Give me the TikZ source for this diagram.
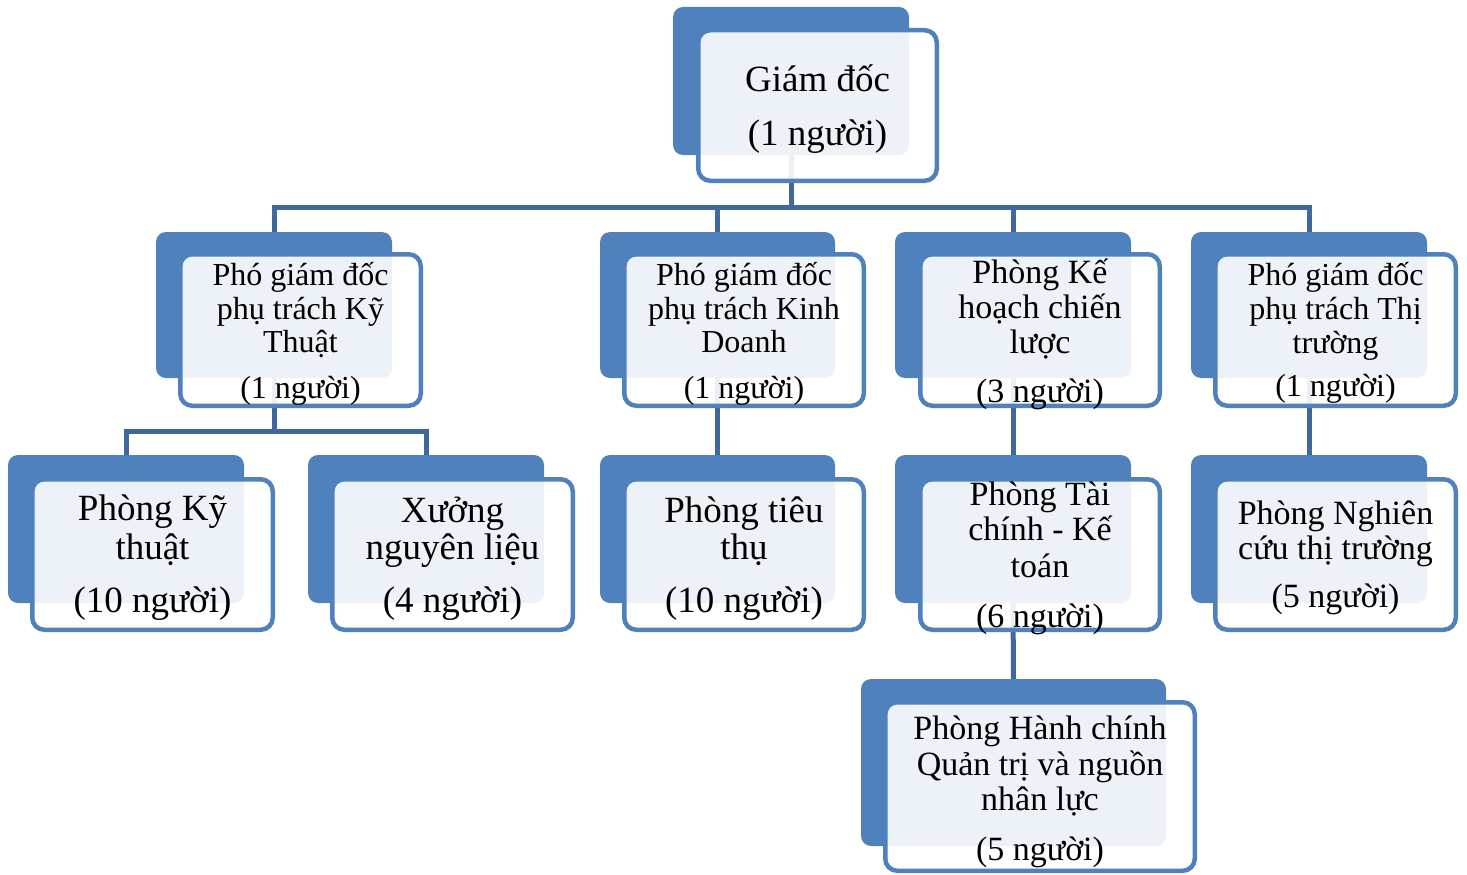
\documentclass[tikz,border=0pt]{standalone}
\usepackage{fontspec}
\setmainfont{Liberation Serif}
\definecolor{backblue}{RGB}{79,129,189}
\definecolor{linkblue}{RGB}{64,104,158}
\pgfdeclarelayer{bg}
\pgfsetlayers{bg,main}
\tikzset{
  backbox/.style={fill=backblue, rounded corners=10pt, inner sep=0pt, outer sep=0pt, draw=none},
  frontbox/.style={draw=backblue, line width=4.5pt, fill=white, fill opacity=0.9, draw opacity=1, rounded corners=12pt, inner sep=0pt, outer sep=0pt},
  txt/.style={anchor=base, inner sep=0pt, text=black, yshift=-2pt},
  link/.style={draw=linkblue, line width=5pt},
}
% name, back x1,y1,x2,y2, front x1,y1,x2,y2
\newcommand\orgbox[9]{%
  \node[backbox, minimum width={(#4-#2)*1pt}, minimum height={(#5-#3)*1pt}] (#1B) at ({(#2+#4)/2},{(#3+#5)/2}) {};
  \node[frontbox, minimum width={(#8-#6-4.5)*1pt}, minimum height={(#9-#7-4.5)*1pt}] (#1) at ({(#6+#8)/2},{(#7+#9)/2}) {};
}
\newcommand\tline[5]{\node[txt, font=\fontsize{#4}{#4}\selectfont] (#1) at (#2,#3) {#5};}
\begin{document}
\begin{tikzpicture}[x=1pt,y=-1pt]
\useasboundingbox (0,0) rectangle (1467,875);

% boxes
\orgbox{gd}{673}{7}{909}{155}{696}{28}{939}{183}
\orgbox{pkt}{156}{232}{392}{378}{178}{252}{423}{408}
\orgbox{pkd}{600}{232}{835}{378}{622}{252}{866}{408}
\orgbox{pkh}{895}{232}{1131}{378}{918}{252}{1162}{408}
\orgbox{ptt}{1191}{232}{1427}{378}{1213}{252}{1458}{408}
\orgbox{kt}{8}{455}{244}{603}{30}{477}{275}{632}
\orgbox{xng}{308}{455}{544}{603}{330}{477}{575}{632}
\orgbox{tt}{600}{455}{835}{603}{622}{477}{866}{632}
\orgbox{tc}{895}{455}{1131}{603}{918}{477}{1162}{632}
\orgbox{nc}{1191}{455}{1427}{603}{1213}{477}{1458}{632}
\orgbox{hc}{861}{679}{1166}{846}{883}{700}{1197}{873}

% texts
\tline{gdT1}{817.5}{90}{37}{Giám đốc}
\tline{gdT2}{817.5}{143}{37}{(1 người)}

\tline{pktT1}{300.5}{283}{32}{Phó giám đốc}
\tline{pktT2}{300.5}{317}{32}{phụ trách Kỹ}
\tline{pktT3}{300.5}{350}{32}{Thuật}
\tline{pktT4}{300.5}{396}{32}{(1 người)}

\tline{pkdT1}{744}{283}{32}{Phó giám đốc}
\tline{pkdT2}{744}{317}{32}{phụ trách Kinh}
\tline{pkdT3}{744}{350}{32}{Doanh}
\tline{pkdT4}{744}{396}{32}{(1 người)}

\tline{pkhT1}{1040}{281}{34}{Phòng Kế}
\tline{pkhT2}{1040}{316}{34}{hoạch chiến}
\tline{pkhT3}{1040}{351}{34}{lược}
\tline{pkhT4}{1040}{400}{34}{(3 người)}

\tline{pttT1}{1335.5}{283}{32}{Phó giám đốc}
\tline{pttT2}{1335.5}{317}{32}{phụ trách Thị}
\tline{pttT3}{1335.5}{351}{32}{trường}
\tline{pttT4}{1335.5}{394}{32}{(1 người)}

\tline{ktT1}{152.5}{518}{37}{Phòng Kỹ}
\tline{ktT2}{152.5}{557}{37}{thuật}
\tline{ktT3}{152.5}{610}{37}{(10 người)}

\tline{xngT1}{452.5}{520}{37}{Xưởng}
\tline{xngT2}{452.5}{557}{37}{nguyên liệu}
\tline{xngT3}{452.5}{610}{37}{(4 người)}

\tline{ttT1}{744}{520}{37}{Phòng tiêu}
\tline{ttT2}{744}{557}{37}{thụ}
\tline{ttT3}{744}{610}{37}{(10 người)}

\tline{tcT1}{1040}{503}{34}{Phòng Tài}
\tline{tcT2}{1040}{538}{34}{chính - Kế}
\tline{tcT3}{1040}{575}{34}{toán}
\tline{tcT4}{1040}{625}{34}{(6 người)}

\tline{ncT1}{1335.5}{522}{34}{Phòng Nghiên}
\tline{ncT2}{1335.5}{557}{34}{cứu thị trường}
\tline{ncT3}{1335.5}{605}{34}{(5 người)}

\tline{hcT1}{1040}{737}{34}{Phòng Hành chính}
\tline{hcT2}{1040}{773}{34}{Quản trị và nguồn}
\tline{hcT3}{1040}{808}{34}{nhân lực}
\tline{hcT4}{1040}{858}{34}{(5 người)}

% connectors
\begin{pgfonlayer}{bg}
\coordinate (bus1) at (0,207);
\coordinate (bus2) at (0,431);
\path[link] (gdB.south) -- (gdB.south |- bus1) -| (pktB.north);
\path[link] (gdB.south) -- (gdB.south |- bus1) -| (pkdB.north);
\path[link] (gdB.south) -- (gdB.south |- bus1) -| (pkhB.north);
\path[link] (gdB.south) -- (gdB.south |- bus1) -| (pttB.north);
\path[link] (pktB.south) -- (pktB.south |- bus2) -| (ktB.north);
\path[link] (pktB.south) -- (pktB.south |- bus2) -| (xngB.north);
\path[link] (pkdB.south) -- (ttB.north);
\path[link] (pkhB.south) -- (tcB.north);
\path[link] (pttB.south) -- (ncB.north);
\path[link] (tcB.south) -- (hcB.north);
\end{pgfonlayer}
\end{tikzpicture}
\end{document}
